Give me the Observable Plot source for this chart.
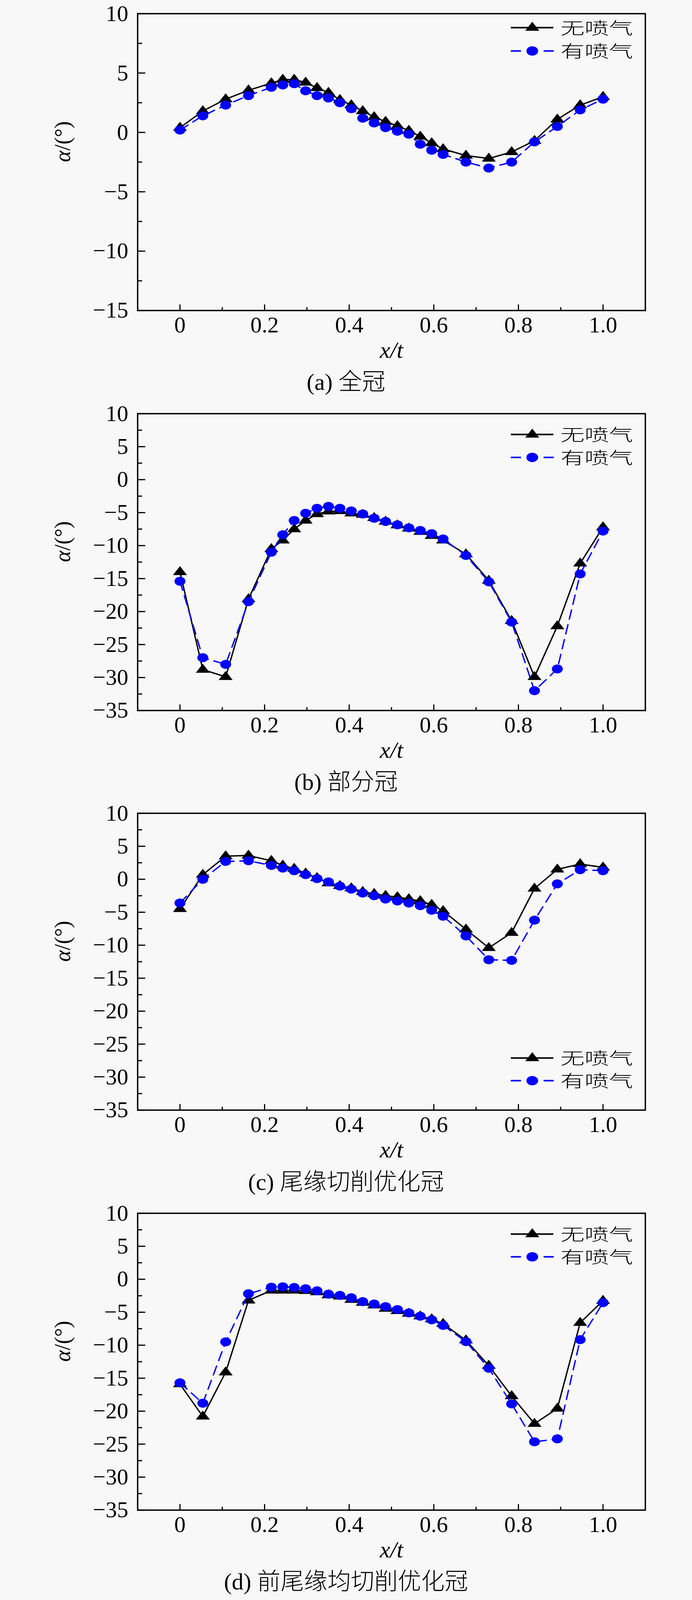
<!DOCTYPE html>
<html><head><meta charset="utf-8">
<script src="https://cdn.jsdelivr.net/npm/d3@7"></script>
<script src="https://cdn.jsdelivr.net/npm/@observablehq/plot@0.6"></script>
<style>
html,body{margin:0;padding:0;background:#f8f8f8;overflow:hidden;}
#root{position:relative;width:1772px;height:4096px;overflow:hidden;}
.block{position:absolute;left:0;width:1772px;}
.cap{position:absolute;left:0;width:1772px;text-align:center;font-family:"Liberation Serif","Noto Sans CJK SC";font-size:60px;color:#000;white-space:pre;}
.cjk{font-family:"Noto Sans CJK SC";font-weight:300;}
svg{display:block;}
</style></head><body><div id="root"></div>
<script>
// x/t positions of the measuring points
const xPos = [0, 0.054, 0.108, 0.162, 0.216, 0.243, 0.270, 0.297, 0.324, 0.351, 0.378, 0.405, 0.432, 0.459, 0.486, 0.514, 0.541, 0.568, 0.595, 0.622, 0.676, 0.730, 0.784, 0.838, 0.892, 0.946, 1.0];

// (a) 全冠
const aNoJet = [0.4, 1.8, 2.8, 3.55, 4.15, 4.45, 4.45, 4.2, 3.75, 3.35, 2.75, 2.3, 1.8, 1.3, 0.9, 0.55, 0.15, -0.35, -0.9, -1.4, -1.95, -2.2, -1.65, -0.7, 1.1, 2.3, 3.0];
const aJet   = [0.2, 1.4, 2.3, 3.1, 3.8, 4.0, 4.1, 3.5, 3.1, 2.9, 2.5, 2.0, 1.2, 0.8, 0.4, 0.1, -0.15, -1.0, -1.5, -1.85, -2.5, -3.0, -2.5, -0.8, 0.5, 1.9, 2.8];
// (b) 部分冠
const bNoJet = [-14.0, -28.8, -29.9, -18.1, -10.5, -9.2, -7.5, -6.2, -5.2, -4.8, -4.75, -5.1, -5.3, -5.8, -6.35, -6.9, -7.4, -7.9, -8.5, -9.2, -11.3, -15.3, -21.4, -29.9, -22.2, -12.7, -7.2];
const bJet   = [-15.4, -27.0, -28.0, -18.5, -11.0, -8.35, -6.2, -5.1, -4.35, -4.05, -4.35, -4.75, -5.2, -5.85, -6.35, -6.85, -7.3, -7.7, -8.2, -9.0, -11.5, -15.5, -21.6, -32.0, -28.7, -14.3, -7.8];
// (c) 尾缘切削优化冠
const cNoJet = [-4.5, 0.7, 3.5, 3.6, 2.8, 2.1, 1.6, 0.9, 0.2, -0.6, -1.0, -1.35, -1.9, -2.2, -2.5, -2.7, -3.0, -3.3, -3.85, -4.8, -7.6, -10.4, -8.1, -1.4, 1.5, 2.3, 1.8];
const cJet   = [-3.6, 0.0, 2.7, 2.8, 2.1, 1.7, 1.3, 0.7, 0.1, -0.4, -1.05, -1.5, -2.1, -2.5, -3.0, -3.3, -3.6, -4.0, -4.7, -5.6, -8.6, -12.2, -12.3, -6.2, -0.7, 1.45, 1.3];
// (d) 前尾缘均切削优化冠
const dNoJet = [-15.9, -20.8, -14.1, -3.2, -1.7, -1.7, -1.7, -1.75, -1.95, -2.4, -2.6, -3.1, -3.55, -3.95, -4.45, -4.8, -5.2, -5.6, -6.05, -6.75, -9.25, -13.1, -17.7, -21.9, -19.6, -6.6, -3.25];
const dJet   = [-15.7, -18.8, -9.5, -2.2, -1.2, -1.15, -1.25, -1.45, -1.75, -2.25, -2.45, -2.8, -3.4, -3.75, -4.15, -4.6, -5.1, -5.6, -6.15, -7.0, -9.45, -13.5, -18.9, -24.65, -24.2, -9.15, -3.55];

const seriesNames = ["无喷气", "有喷气"];
const xTicksMajor = [0, 0.2, 0.4, 0.6, 0.8, 1.0];
const xTicksMinor = [0.1, 0.3, 0.5, 0.7, 0.9];
const yTicksA = [-15, -10, -5, 0, 5, 10];
const yMinorA = [-12.5, -7.5, -2.5, 2.5, 7.5];
const yTicksB = [-35, -30, -25, -20, -15, -10, -5, 0, 5, 10];
const yMinorB = [-32.5, -27.5, -22.5, -17.5, -12.5, -7.5, -2.5, 2.5, 7.5];

const panels = [
  {no: aNoJet, jet: aJet, domain: [-15, 10], ticks: yTicksA, minor: yMinorA, legend: {from: "top", rows: [50, 132]}, tag: "(a) ", name: "全冠"},
  {no: bNoJet, jet: bJet, domain: [-35, 10], ticks: yTicksB, minor: yMinorB, legend: {from: "top", rows: [74, 155]}, tag: "(b) ", name: "部分冠"},
  {no: cNoJet, jet: cJet, domain: [-35, 10], ticks: yTicksB, minor: yMinorB, legend: {from: "bottom", rows: [183, 103]}, tag: "(c) ", name: "尾缘切削优化冠"},
  {no: dNoJet, jet: dJet, domain: [-35, 10], ticks: yTicksB, minor: yMinorB, legend: {from: "top", rows: [74, 154]}, tag: "(d) ", name: "前尾缘均切削优化冠"}
];

// layout: the browser viewport is 4096 px tall, so the reference's vertical layout is fitted into it
const Y0 = 12;
const K = (4096 - Y0 - 26) / 5586;
const W = 1772, ML = 352, MR = 120;
const BH = 1409 * K;
const MT = 31 * K, IH = 1046 * K;
const FB = MT + IH;
const H = Math.round(FB + 140 * K + 36);
const BLACK = "#000000", BLUE = "#0000ff";

// marker shapes (slightly flattened, like the reference)
const triShape = {draw(ctx) { ctx.moveTo(0, -15); ctx.lineTo(18, 8); ctx.lineTo(-18, 8); ctx.closePath(); }};
function ellipsePath(ctx, rx, ry) {
  const c = 0.5523;
  ctx.moveTo(rx, 0);
  ctx.bezierCurveTo(rx, ry * c, rx * c, ry, 0, ry);
  ctx.bezierCurveTo(-rx * c, ry, -rx, ry * c, -rx, 0);
  ctx.bezierCurveTo(-rx, -ry * c, -rx * c, -ry, 0, -ry);
  ctx.bezierCurveTo(rx * c, -ry, rx, -ry * c, rx, 0);
  ctx.closePath();
}
const dotShape = {draw(ctx) { ellipsePath(ctx, 14, 11.5); }};

const root = document.getElementById("root");

panels.forEach((p, k) => {
  const rows = xPos.map((x, i) => ({x, no: p.no[i], jet: p.jet[i]}));
  const plot = Plot.plot({
    width: W, height: H,
    marginLeft: ML, marginRight: MR, marginTop: MT, marginBottom: H - FB,
    style: {fontFamily: "'Liberation Serif', 'Noto Sans CJK SC'", fontSize: "58px", color: "#000", background: "transparent", overflow: "visible"},
    x: {domain: [-0.1, 1.1]},
    y: {domain: p.domain},
    marks: [
      Plot.axisX({ticks: xTicksMajor, tickSize: 0, tickPadding: 15, tickFormat: d => d === 0 ? "0" : d.toFixed(1), label: null}),
      Plot.axisX({ticks: xTicksMajor, tickSize: -15, fill: "none", strokeWidth: 3, label: null}),
      Plot.axisX({ticks: xTicksMinor, tickSize: -8, fill: "none", strokeWidth: 3, label: null}),
      Plot.axisY({ticks: p.ticks, tickSize: 0, tickPadding: 24, label: null}),
      Plot.axisY({ticks: p.ticks, tickSize: -20, fill: "none", strokeWidth: 3, label: null}),
      Plot.axisY({ticks: p.minor, tickSize: -12, fill: "none", strokeWidth: 3, label: null}),
      Plot.frame({stroke: BLACK, strokeWidth: 3.5}),
      Plot.line(rows, {x: "x", y: "no", stroke: BLACK, strokeWidth: 3.5}),
      Plot.dot(rows, {x: "x", y: "no", symbol: triShape, r: 13, fill: BLACK}),
      Plot.line(rows, {x: "x", y: "jet", stroke: BLUE, strokeWidth: 3.5, strokeDasharray: "24,15"}),
      Plot.dot(rows, {x: "x", y: "jet", symbol: dotShape, r: 13, fill: BLUE}),
      Plot.text(["x/t"], {text: d => d, frameAnchor: "bottom", dy: 140 * K, fontStyle: "italic", fontSize: 60, lineAnchor: "middle"}),
      Plot.text(["α/(°)"], {text: d => d, frameAnchor: "left", dx: -191, rotate: -90, fontSize: 56, lineAnchor: "middle"})
    ]
  });
  const svg = d3.select(plot);
  svg.selectAll("text").filter(function() { return this.textContent === "α/(°)"; })
    .each(function() {
      const t = d3.select(this);
      t.text(null);
      t.append("tspan").attr("font-style", "italic").text("α");
      t.append("tspan").text("/(°)");
    });
  // legend
  const R = W - MR;
  const ys = p.legend.rows.map(v => p.legend.from === "top" ? MT + v * K : FB - v * K);
  const g = svg.append("g").attr("class", "legend").attr("text-anchor", "start");
  g.append("line").attr("x1", R - 344).attr("x2", R - 235).attr("y1", ys[0]).attr("y2", ys[0])
    .attr("stroke", BLACK).attr("stroke-width", 4);
  g.append("path").attr("d", d3.symbol(triShape)())
    .attr("transform", `translate(${R - 289},${ys[0]})`).attr("fill", BLACK);
  g.append("line").attr("x1", R - 344).attr("x2", R - 232).attr("y1", ys[1]).attr("y2", ys[1])
    .attr("stroke", BLUE).attr("stroke-width", 4).attr("stroke-dasharray", "26,16");
  g.append("path").attr("d", d3.symbol({draw(ctx) { ellipsePath(ctx, 15, 12); }})())
    .attr("transform", `translate(${R - 289},${ys[1]})`).attr("fill", BLUE);
  seriesNames.forEach((s, i) => {
    g.append("text").attr("transform", `translate(${R - 217},${ys[i] - 2}) scale(1,0.69)`)
      .attr("text-anchor", "start").attr("dominant-baseline", "central")
      .attr("font-family", "'Noto Sans CJK SC'").attr("font-weight", 300).attr("font-size", 62).attr("fill", "#000")
      .text(s);
  });

  const block = document.createElement("div");
  block.className = "block";
  block.style.top = (Y0 + k * BH) + "px";
  block.style.height = BH + "px";
  block.appendChild(plot);
  const cap = document.createElement("div");
  cap.className = "cap";
  const capCenter = 1322 * K;
  const capH = 90;
  cap.style.top = (capCenter - capH / 2) + "px";
  cap.style.height = capH + "px";
  cap.style.lineHeight = capH + "px";
  cap.appendChild(document.createTextNode(p.tag));
  const sp = document.createElement("span");
  sp.className = "cjk";
  sp.textContent = p.name;
  cap.appendChild(sp);
  block.appendChild(cap);
  root.appendChild(block);
});
</script>
</body></html>
